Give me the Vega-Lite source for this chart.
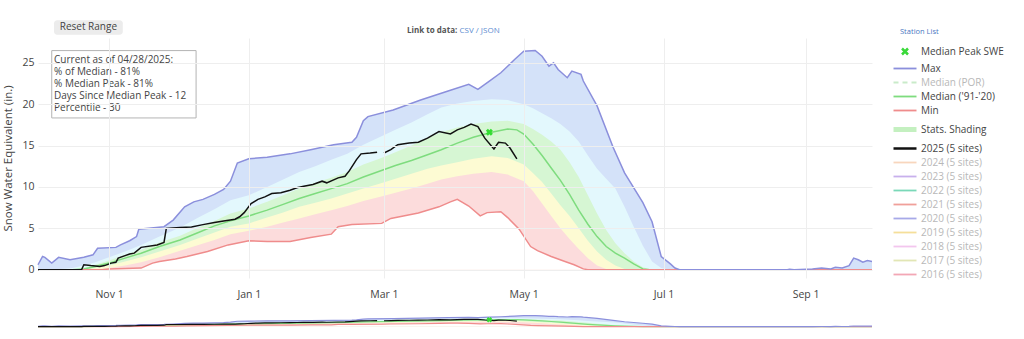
{
  "$schema": "https://vega.github.io/schema/vega-lite/v6.json",
  "background": "white",
  "padding": {"left": 2, "top": 20, "right": 5, "bottom": 4},
  "config": {"font": "Open Sans", "view": {"stroke": null}},
  "datasets": {
    "lines": [
      {"s":"Median ('91-'20)","d":"2024-10-01","v":0},{"s":"Median ('91-'20)","d":"2024-10-16","v":0},{"s":"Median ('91-'20)","d":"2024-10-21","v":0.1},{"s":"Median ('91-'20)","d":"2024-10-26","v":0.4},{"s":"Median ('91-'20)","d":"2024-11-01","v":0.8},{"s":"Median ('91-'20)","d":"2024-11-08","v":1.4},{"s":"Median ('91-'20)","d":"2024-11-15","v":2.0},{"s":"Median ('91-'20)","d":"2024-11-23","v":2.8},{"s":"Median ('91-'20)","d":"2024-12-02","v":3.6},{"s":"Median ('91-'20)","d":"2024-12-10","v":4.5},{"s":"Median ('91-'20)","d":"2024-12-17","v":5.3},{"s":"Median ('91-'20)","d":"2024-12-24","v":5.9},{"s":"Median ('91-'20)","d":"2025-01-01","v":6.5},{"s":"Median ('91-'20)","d":"2025-01-09","v":7.2},{"s":"Median ('91-'20)","d":"2025-01-16","v":7.9},{"s":"Median ('91-'20)","d":"2025-01-23","v":8.6},{"s":"Median ('91-'20)","d":"2025-01-30","v":9.2},{"s":"Median ('91-'20)","d":"2025-02-06","v":9.8},{"s":"Median ('91-'20)","d":"2025-02-13","v":10.4},{"s":"Median ('91-'20)","d":"2025-02-20","v":11.2},{"s":"Median ('91-'20)","d":"2025-02-27","v":11.9},{"s":"Median ('91-'20)","d":"2025-03-06","v":12.6},{"s":"Median ('91-'20)","d":"2025-03-13","v":13.2},{"s":"Median ('91-'20)","d":"2025-03-20","v":13.9},{"s":"Median ('91-'20)","d":"2025-03-26","v":14.5},{"s":"Median ('91-'20)","d":"2025-04-02","v":15.3},{"s":"Median ('91-'20)","d":"2025-04-09","v":16.0},{"s":"Median ('91-'20)","d":"2025-04-17","v":16.6},{"s":"Median ('91-'20)","d":"2025-04-24","v":17.0},{"s":"Median ('91-'20)","d":"2025-04-28","v":16.9},{"s":"Median ('91-'20)","d":"2025-05-01","v":16.4},{"s":"Median ('91-'20)","d":"2025-05-05","v":15.2},{"s":"Median ('91-'20)","d":"2025-05-09","v":13.8},{"s":"Median ('91-'20)","d":"2025-05-13","v":12.3},{"s":"Median ('91-'20)","d":"2025-05-17","v":10.8},{"s":"Median ('91-'20)","d":"2025-05-21","v":9.1},{"s":"Median ('91-'20)","d":"2025-05-25","v":7.2},{"s":"Median ('91-'20)","d":"2025-05-29","v":5.5},{"s":"Median ('91-'20)","d":"2025-06-02","v":4.0},{"s":"Median ('91-'20)","d":"2025-06-06","v":2.8},{"s":"Median ('91-'20)","d":"2025-06-10","v":2.0},{"s":"Median ('91-'20)","d":"2025-06-14","v":1.4},{"s":"Median ('91-'20)","d":"2025-06-18","v":0.7},{"s":"Median ('91-'20)","d":"2025-06-22","v":0.1},{"s":"Median ('91-'20)","d":"2025-06-25","v":0},{"s":"Median ('91-'20)","d":"2025-09-30","v":0},
      {"s":"Min","d":"2024-10-01","v":0},{"s":"Min","d":"2024-10-29","v":0},{"s":"Min","d":"2024-11-01","v":0.1},{"s":"Min","d":"2024-11-15","v":0.2},{"s":"Min","d":"2024-11-20","v":0.8},{"s":"Min","d":"2024-11-23","v":1.0},{"s":"Min","d":"2024-11-30","v":1.3},{"s":"Min","d":"2024-12-05","v":1.6},{"s":"Min","d":"2024-12-14","v":2.2},{"s":"Min","d":"2024-12-23","v":3.0},{"s":"Min","d":"2025-01-01","v":3.5},{"s":"Min","d":"2025-01-09","v":3.4},{"s":"Min","d":"2025-01-19","v":3.4},{"s":"Min","d":"2025-01-28","v":3.9},{"s":"Min","d":"2025-02-06","v":4.3},{"s":"Min","d":"2025-02-09","v":5.2},{"s":"Min","d":"2025-02-15","v":5.45},{"s":"Min","d":"2025-02-28","v":5.6},{"s":"Min","d":"2025-03-04","v":6.2},{"s":"Min","d":"2025-03-16","v":6.85},{"s":"Min","d":"2025-03-25","v":7.6},{"s":"Min","d":"2025-03-30","v":8.2},{"s":"Min","d":"2025-04-02","v":8.5},{"s":"Min","d":"2025-04-07","v":7.7},{"s":"Min","d":"2025-04-12","v":6.5},{"s":"Min","d":"2025-04-15","v":6.9},{"s":"Min","d":"2025-04-21","v":7.0},{"s":"Min","d":"2025-04-24","v":6.3},{"s":"Min","d":"2025-04-29","v":4.9},{"s":"Min","d":"2025-05-04","v":2.8},{"s":"Min","d":"2025-05-07","v":2.3},{"s":"Min","d":"2025-05-13","v":1.6},{"s":"Min","d":"2025-05-19","v":1.0},{"s":"Min","d":"2025-05-23","v":0.6},{"s":"Min","d":"2025-05-27","v":0.1},{"s":"Min","d":"2025-05-29","v":0},{"s":"Min","d":"2025-09-30","v":0},
      {"s":"Max","d":"2024-10-01","v":0.6},{"s":"Max","d":"2024-10-03","v":1.6},{"s":"Max","d":"2024-10-04","v":1.5},{"s":"Max","d":"2024-10-07","v":0.8},{"s":"Max","d":"2024-10-10","v":1.5},{"s":"Max","d":"2024-10-15","v":1.2},{"s":"Max","d":"2024-10-21","v":1.5},{"s":"Max","d":"2024-10-25","v":1.8},{"s":"Max","d":"2024-10-27","v":2.6},{"s":"Max","d":"2024-11-04","v":2.7},{"s":"Max","d":"2024-11-06","v":3.0},{"s":"Max","d":"2024-11-10","v":3.5},{"s":"Max","d":"2024-11-13","v":4.0},{"s":"Max","d":"2024-11-14","v":4.9},{"s":"Max","d":"2024-11-25","v":5.2},{"s":"Max","d":"2024-11-29","v":6.0},{"s":"Max","d":"2024-12-04","v":7.6},{"s":"Max","d":"2024-12-08","v":8.2},{"s":"Max","d":"2024-12-12","v":8.5},{"s":"Max","d":"2024-12-17","v":9.1},{"s":"Max","d":"2024-12-21","v":9.7},{"s":"Max","d":"2024-12-24","v":10.7},{"s":"Max","d":"2024-12-27","v":12.9},{"s":"Max","d":"2025-01-01","v":13.4},{"s":"Max","d":"2025-01-09","v":13.6},{"s":"Max","d":"2025-01-19","v":14.0},{"s":"Max","d":"2025-01-28","v":14.5},{"s":"Max","d":"2025-02-07","v":15.1},{"s":"Max","d":"2025-02-15","v":15.4},{"s":"Max","d":"2025-02-17","v":16.0},{"s":"Max","d":"2025-02-20","v":18.0},{"s":"Max","d":"2025-02-22","v":18.5},{"s":"Max","d":"2025-03-05","v":19.3},{"s":"Max","d":"2025-03-17","v":20.5},{"s":"Max","d":"2025-03-29","v":21.6},{"s":"Max","d":"2025-04-07","v":22.4},{"s":"Max","d":"2025-04-11","v":21.8},{"s":"Max","d":"2025-04-16","v":22.8},{"s":"Max","d":"2025-04-21","v":23.8},{"s":"Max","d":"2025-04-27","v":25.4},{"s":"Max","d":"2025-05-01","v":26.4},{"s":"Max","d":"2025-05-06","v":26.5},{"s":"Max","d":"2025-05-09","v":25.8},{"s":"Max","d":"2025-05-12","v":24.6},{"s":"Max","d":"2025-05-14","v":25.0},{"s":"Max","d":"2025-05-16","v":24.2},{"s":"Max","d":"2025-05-20","v":23.2},{"s":"Max","d":"2025-05-22","v":24.0},{"s":"Max","d":"2025-05-26","v":23.6},{"s":"Max","d":"2025-05-27","v":22.8},{"s":"Max","d":"2025-06-02","v":19.8},{"s":"Max","d":"2025-06-09","v":14.8},{"s":"Max","d":"2025-06-14","v":11.7},{"s":"Max","d":"2025-06-22","v":8.1},{"s":"Max","d":"2025-06-26","v":5.8},{"s":"Max","d":"2025-06-30","v":1.6},{"s":"Max","d":"2025-07-04","v":0.7},{"s":"Max","d":"2025-07-06","v":0.2},{"s":"Max","d":"2025-07-08","v":0},{"s":"Max","d":"2025-08-24","v":0},{"s":"Max","d":"2025-08-25","v":0.05},{"s":"Max","d":"2025-08-27","v":0},{"s":"Max","d":"2025-09-04","v":0.1},{"s":"Max","d":"2025-09-08","v":0.2},{"s":"Max","d":"2025-09-12","v":0.1},{"s":"Max","d":"2025-09-14","v":0.3},{"s":"Max","d":"2025-09-17","v":0.2},{"s":"Max","d":"2025-09-20","v":0.5},{"s":"Max","d":"2025-09-22","v":1.4},{"s":"Max","d":"2025-09-24","v":1.2},{"s":"Max","d":"2025-09-26","v":0.9},{"s":"Max","d":"2025-09-28","v":1.1},{"s":"Max","d":"2025-09-30","v":1.0},
      {"s":"2025 (5 sites)","d":"2024-10-01","v":0},{"s":"2025 (5 sites)","d":"2024-10-20","v":0},{"s":"2025 (5 sites)","d":"2024-10-21","v":0.6},{"s":"2025 (5 sites)","d":"2024-10-24","v":0.5},{"s":"2025 (5 sites)","d":"2024-10-28","v":0.4},{"s":"2025 (5 sites)","d":"2024-10-30","v":0.5},{"s":"2025 (5 sites)","d":"2024-11-02","v":0.8},{"s":"2025 (5 sites)","d":"2024-11-04","v":0.9},{"s":"2025 (5 sites)","d":"2024-11-05","v":1.4},{"s":"2025 (5 sites)","d":"2024-11-08","v":1.7},{"s":"2025 (5 sites)","d":"2024-11-10","v":1.9},{"s":"2025 (5 sites)","d":"2024-11-12","v":2.0},{"s":"2025 (5 sites)","d":"2024-11-15","v":2.7},{"s":"2025 (5 sites)","d":"2024-11-22","v":3.0},{"s":"2025 (5 sites)","d":"2024-11-25","v":3.3},{"s":"2025 (5 sites)","d":"2024-11-26","v":5.0},{"s":"2025 (5 sites)","d":"2024-12-02","v":5.1},{"s":"2025 (5 sites)","d":"2024-12-07","v":5.15},{"s":"2025 (5 sites)","d":"2024-12-12","v":5.45},{"s":"2025 (5 sites)","d":"2024-12-17","v":5.7},{"s":"2025 (5 sites)","d":"2024-12-21","v":5.9},{"s":"2025 (5 sites)","d":"2024-12-26","v":6.1},{"s":"2025 (5 sites)","d":"2024-12-28","v":6.4},{"s":"2025 (5 sites)","d":"2024-12-30","v":6.9},{"s":"2025 (5 sites)","d":"2025-01-02","v":8.0},{"s":"2025 (5 sites)","d":"2025-01-05","v":8.5},{"s":"2025 (5 sites)","d":"2025-01-08","v":8.8},{"s":"2025 (5 sites)","d":"2025-01-11","v":9.2},{"s":"2025 (5 sites)","d":"2025-01-15","v":9.3},{"s":"2025 (5 sites)","d":"2025-01-19","v":9.6},{"s":"2025 (5 sites)","d":"2025-01-22","v":9.9},{"s":"2025 (5 sites)","d":"2025-01-25","v":10.1},{"s":"2025 (5 sites)","d":"2025-01-29","v":10.3},{"s":"2025 (5 sites)","d":"2025-02-02","v":10.7},{"s":"2025 (5 sites)","d":"2025-02-04","v":10.5},{"s":"2025 (5 sites)","d":"2025-02-09","v":11.1},{"s":"2025 (5 sites)","d":"2025-02-12","v":11.3},{"s":"2025 (5 sites)","d":"2025-02-14","v":12.0},{"s":"2025 (5 sites)","d":"2025-02-17","v":13.3},{"s":"2025 (5 sites)","d":"2025-02-19","v":14.0},{"s":"2025 (5 sites)","d":"2025-02-23","v":14.1},{"s":"2025 (5 sites)","d":"2025-02-26","v":14.2},{"s":"2025 (5 sites)","d":"2025-02-28","v":null},{"s":"2025 (5 sites)","d":"2025-03-01","v":14.1},{"s":"2025 (5 sites)","d":"2025-03-04","v":14.5},{"s":"2025 (5 sites)","d":"2025-03-07","v":15.1},{"s":"2025 (5 sites)","d":"2025-03-12","v":15.3},{"s":"2025 (5 sites)","d":"2025-03-16","v":15.4},{"s":"2025 (5 sites)","d":"2025-03-20","v":15.9},{"s":"2025 (5 sites)","d":"2025-03-25","v":16.7},{"s":"2025 (5 sites)","d":"2025-03-30","v":16.4},{"s":"2025 (5 sites)","d":"2025-04-02","v":16.9},{"s":"2025 (5 sites)","d":"2025-04-05","v":17.2},{"s":"2025 (5 sites)","d":"2025-04-08","v":17.6},{"s":"2025 (5 sites)","d":"2025-04-11","v":17.3},{"s":"2025 (5 sites)","d":"2025-04-14","v":15.9},{"s":"2025 (5 sites)","d":"2025-04-18","v":14.6},{"s":"2025 (5 sites)","d":"2025-04-20","v":15.4},{"s":"2025 (5 sites)","d":"2025-04-23","v":15.3},{"s":"2025 (5 sites)","d":"2025-04-25","v":14.7},{"s":"2025 (5 sites)","d":"2025-04-28","v":13.4}
    ],
    "pct": [
      {"d":"2024-10-01","p90":0,"p70":0,"p30":0,"p10":0},
      {"d":"2024-10-11","p90":0.1,"p70":0,"p30":0,"p10":0},
      {"d":"2024-10-16","p90":0.2,"p70":0,"p30":0,"p10":0},
      {"d":"2024-10-21","p90":0.5,"p70":0.2,"p30":0,"p10":0},
      {"d":"2024-10-26","p90":0.9,"p70":0.6,"p30":0.2,"p10":0},
      {"d":"2024-11-01","p90":1.5,"p70":1.1,"p30":0.5,"p10":0.2},
      {"d":"2024-11-08","p90":2.2,"p70":1.8,"p30":1.0,"p10":0.5},
      {"d":"2024-11-15","p90":3.0,"p70":2.4,"p30":1.5,"p10":0.9},
      {"d":"2024-11-23","p90":4.0,"p70":3.3,"p30":2.2,"p10":1.5},
      {"d":"2024-12-02","p90":5.1,"p70":4.1,"p30":3.0,"p10":2.3},
      {"d":"2024-12-10","p90":6.3,"p70":5.1,"p30":3.8,"p10":3.0},
      {"d":"2024-12-17","p90":7.3,"p70":5.9,"p30":4.5,"p10":3.6},
      {"d":"2024-12-24","p90":8.4,"p70":6.8,"p30":5.2,"p10":4.3},
      {"d":"2025-01-01","p90":9.0,"p70":7.4,"p30":5.6,"p10":4.7},
      {"d":"2025-01-09","p90":10.0,"p70":8.2,"p30":6.3,"p10":5.2},
      {"d":"2025-01-16","p90":10.9,"p70":9.0,"p30":6.9,"p10":5.7},
      {"d":"2025-01-23","p90":11.8,"p70":9.8,"p30":7.6,"p10":6.2},
      {"d":"2025-01-30","p90":12.5,"p70":10.5,"p30":8.1,"p10":6.7},
      {"d":"2025-02-06","p90":13.3,"p70":11.1,"p30":8.6,"p10":7.2},
      {"d":"2025-02-13","p90":14.0,"p70":11.8,"p30":9.2,"p10":7.7},
      {"d":"2025-02-20","p90":15.1,"p70":12.7,"p30":9.8,"p10":8.3},
      {"d":"2025-02-27","p90":16.0,"p70":13.4,"p30":10.4,"p10":8.8},
      {"d":"2025-03-06","p90":16.9,"p70":14.2,"p30":11.0,"p10":9.3},
      {"d":"2025-03-13","p90":17.8,"p70":15.0,"p30":11.6,"p10":9.8},
      {"d":"2025-03-20","p90":18.8,"p70":15.9,"p30":12.2,"p10":10.4},
      {"d":"2025-03-26","p90":19.6,"p70":16.6,"p30":12.6,"p10":10.9},
      {"d":"2025-04-02","p90":20.1,"p70":17.2,"p30":13.0,"p10":11.3},
      {"d":"2025-04-09","p90":20.4,"p70":17.6,"p30":13.4,"p10":11.6},
      {"d":"2025-04-17","p90":20.6,"p70":17.9,"p30":13.7,"p10":11.8},
      {"d":"2025-04-24","p90":20.5,"p70":18.0,"p30":13.5,"p10":11.5},
      {"d":"2025-05-01","p90":20.0,"p70":17.6,"p30":12.7,"p10":10.7},
      {"d":"2025-05-05","p90":19.5,"p70":17.0,"p30":11.7,"p10":9.5},
      {"d":"2025-05-09","p90":18.9,"p70":16.3,"p30":10.6,"p10":8.0},
      {"d":"2025-05-13","p90":18.3,"p70":15.5,"p30":9.2,"p10":6.5},
      {"d":"2025-05-17","p90":17.6,"p70":14.5,"p30":7.8,"p10":5.0},
      {"d":"2025-05-21","p90":16.7,"p70":13.0,"p30":6.5,"p10":3.7},
      {"d":"2025-05-25","p90":15.5,"p70":11.2,"p30":5.0,"p10":2.5},
      {"d":"2025-05-29","p90":13.8,"p70":9.0,"p30":3.5,"p10":1.4},
      {"d":"2025-06-02","p90":12.2,"p70":6.8,"p30":2.2,"p10":0.5},
      {"d":"2025-06-06","p90":11.0,"p70":4.8,"p30":1.2,"p10":0.1},
      {"d":"2025-06-10","p90":9.8,"p70":3.2,"p30":0.5,"p10":0},
      {"d":"2025-06-14","p90":7.6,"p70":2.0,"p30":0.1,"p10":0},
      {"d":"2025-06-18","p90":5.2,"p70":1.0,"p30":0,"p10":0},
      {"d":"2025-06-22","p90":2.9,"p70":0.3,"p30":0,"p10":0},
      {"d":"2025-06-26","p90":1.0,"p70":0,"p30":0,"p10":0},
      {"d":"2025-06-30","p90":0.2,"p70":0,"p30":0,"p10":0},
      {"d":"2025-07-04","p90":0,"p70":0,"p30":0,"p10":0},
      {"d":"2025-09-30","p90":0,"p70":0,"p30":0,"p10":0}
    ],
    "peak": [{"s":"Median Peak SWE","d":"2025-04-16","v":16.6}],
    "boxes": [
      {"k":"info","d":"2024-10-07","d2":"2024-12-09","v":26.48,"v2":18.34},
      {"k":"button","d":"2024-10-08","d2":"2024-11-07","v":30.15,"v2":28.4}
    ],
    "labels": [
      {"k":"info","d":"2024-10-08","v":26.0,"t":["Current as of 04/28/2025:","% of Median - 81%","% Median Peak - 81%","Days Since Median Peak - 12","Percentile - 30"]},
      {"k":"button","d":"2024-10-23","v":29.3,"t":"Reset Range"},
      {"k":"link","d":"2025-04-02","v":28.85,"t":"Link to data:"},
      {"k":"files","d":"2025-04-03","v":28.85,"t":"CSV / JSON"}
    ]
  },
  "resolve": {"scale": {"x": "independent", "y": "independent", "color": "independent", "stroke": "independent"}},
  "spacing": 13,
  "vconcat": [
    {
      "width": 834,
      "height": 240,
      "encoding": {
        "x": {"field": "d", "type": "temporal", "title": null,
          "scale": {"type": "utc", "domain": ["2024-10-01", "2025-09-30"]},
          "axis": {"values": ["2024-11-01", "2025-01-01", "2025-03-01", "2025-05-01", "2025-07-01", "2025-09-01"],
            "labelExpr": "utcFormat(datum.value, '%b %e')", "grid": true, "gridColor": "#eeeeee", "domain": false, "ticks": false, "labelPadding": 11, "labelFontSize": 10.5, "labelColor": "#444444", "zindex": 1}},
        "y": {"field": "v", "type": "quantitative", "title": "Snow Water Equivalent (in.)",
          "scale": {"domain": [-1, 28], "nice": false},
          "axis": {"values": [0, 5, 10, 15, 20, 25], "grid": true, "gridColor": "#eeeeee", "domain": false, "ticks": false, "labelPadding": 4, "labelFontSize": 10.5, "labelColor": "#444444", "titleFontSize": 11.5, "titleFontWeight": "normal", "titleColor": "#444444", "titlePadding": 8, "zindex": 1}}
      },
      "layer": [
        {"data": {"name": "lines"}, "transform": [{"filter": "datum.s === 'Max'"}], "mark": {"type": "area", "color": "#d4e2f9"}},
        {"data": {"name": "pct"}, "transform": [{"fold": ["p90", "p70", "p30", "p10"], "as": ["s", "v"]}, {"filter": "datum.s === 'p90'"}], "mark": {"type": "area", "color": "#e3f8fd"}},
        {"data": {"name": "pct"}, "transform": [{"fold": ["p90", "p70", "p30", "p10"], "as": ["s", "v"]}, {"filter": "datum.s === 'p70'"}], "mark": {"type": "area", "color": "#d6f6d3"}},
        {"data": {"name": "pct"}, "transform": [{"fold": ["p90", "p70", "p30", "p10"], "as": ["s", "v"]}, {"filter": "datum.s === 'p30'"}], "mark": {"type": "area", "color": "#fdfbd3"}},
        {"data": {"name": "pct"}, "transform": [{"fold": ["p90", "p70", "p30", "p10"], "as": ["s", "v"]}, {"filter": "datum.s === 'p10'"}], "mark": {"type": "area", "color": "#fcdcdc"}},
        {"data": {"name": "lines"}, "transform": [{"filter": "datum.s === 'Min'"}], "mark": {"type": "area", "color": "#ffffff"}},
        {"data": {"name": "lines"},
          "mark": {"type": "line", "strokeWidth": 1.5},
          "encoding": {
            "color": {"field": "s", "type": "nominal",
              "scale": {"domain": ["Median Peak SWE", "Max", "Median (POR)", "Median ('91-'20)", "Min", "Stats. Shading", "2025 (5 sites)", "2024 (5 sites)", "2023 (5 sites)", "2022 (5 sites)", "2021 (5 sites)", "2020 (5 sites)", "2019 (5 sites)", "2018 (5 sites)", "2017 (5 sites)", "2016 (5 sites)"],
                "range": ["#39d939", "#8b8fdc", "#c9ebc9", "#7edc7e", "#ef8c8c", "#c4f0c0", "#111111", "#f8d6bd", "#c8b0ec", "#7ad8b8", "#f0a09a", "#a7a9e8", "#f5df9a", "#f3c6ee", "#e2e6b5", "#f3a7b5"]},
              "legend": {"title": "Station List", "orient": "none", "legendX": 862, "legendY": -10, "padding": 0,
                "titleFontSize": 7.5, "titleFontWeight": "normal", "titleColor": "#4a78c2", "titlePadding": 11,
                "labelFontSize": 10, "labelOffset": 11, "labelLimit": 200,
                "labelColor": {"expr": "datum.value === 'Median (POR)' || (datum.value !== '2025 (5 sites)' && indexof(datum.value, 'sites') >= 0) ? '#b8b8b8' : '#444444'"},
                "symbolType": {"expr": "datum.value === 'Median Peak SWE' ? 'M-0.6,-0.6L0.6,0.6M0.6,-0.6L-0.6,0.6' : 'M-2.3,0H2.3'"},
                "symbolStrokeWidth": {"expr": "datum.value === 'Stats. Shading' ? 5 : (datum.value === 'Median Peak SWE' || datum.value === '2025 (5 sites)') ? 2.5 : 1.8"},
                "symbolDash": {"expr": "datum.value === 'Median (POR)' ? [5, 4] : []"},
                "symbolSize": 100, "rowPadding": 4}}}},
        {"data": {"name": "peak"}, "mark": {"type": "point", "shape": "cross", "angle": 45, "filled": true, "size": 50, "color": "#33dd33", "opacity": 1}},
        {"data": {"name": "boxes"}, "transform": [{"filter": "datum.k === 'info'"}], "mark": {"type": "rect", "fill": "#ffffff", "stroke": "#b4b4b4", "strokeWidth": 1}, "encoding": {"x2": {"field": "d2"}, "y2": {"field": "v2"}}},
        {"data": {"name": "boxes"}, "transform": [{"filter": "datum.k === 'button'"}], "mark": {"type": "rect", "fill": "#ececec", "cornerRadius": 3}, "encoding": {"x2": {"field": "d2"}, "y2": {"field": "v2"}}},
        {"data": {"name": "labels"}, "transform": [{"filter": "datum.k === 'info'"}], "mark": {"type": "text", "align": "left", "baseline": "top", "fontSize": 10, "lineHeight": 12.1, "color": "#444444"}, "encoding": {"text": {"field": "t"}}},
        {"data": {"name": "labels"}, "transform": [{"filter": "datum.k === 'button'"}], "mark": {"type": "text", "align": "center", "baseline": "middle", "fontSize": 10, "color": "#444444"}, "encoding": {"text": {"field": "t"}}},
        {"data": {"name": "labels"}, "transform": [{"filter": "datum.k === 'link'"}], "mark": {"type": "text", "align": "right", "baseline": "middle", "fontSize": 8, "fontWeight": "bold", "color": "#555555"}, "encoding": {"text": {"field": "t"}}},
        {"data": {"name": "labels"}, "transform": [{"filter": "datum.k === 'files'"}], "mark": {"type": "text", "align": "left", "baseline": "middle", "fontSize": 8, "color": "#5b8bd0"}, "encoding": {"text": {"field": "t"}}}
      ]
    },
    {
      "width": 834,
      "height": 12,
      "encoding": {
        "x": {"field": "d", "type": "temporal", "axis": null,
          "scale": {"type": "utc", "domain": ["2024-10-01", "2025-09-30"]}},
        "y": {"field": "v", "type": "quantitative", "axis": null, "scale": {"domain": [-1, 28], "nice": false}}
      },
      "layer": [
        {"data": {"name": "lines"}, "transform": [{"filter": "datum.s === 'Max'"}], "mark": {"type": "area", "color": "#d4e2f9"}},
        {"data": {"name": "pct"}, "transform": [{"fold": ["p90", "p70", "p30", "p10"], "as": ["s", "v"]}, {"filter": "datum.s === 'p90'"}], "mark": {"type": "area", "color": "#e3f8fd"}},
        {"data": {"name": "pct"}, "transform": [{"fold": ["p90", "p70", "p30", "p10"], "as": ["s", "v"]}, {"filter": "datum.s === 'p70'"}], "mark": {"type": "area", "color": "#d6f6d3"}},
        {"data": {"name": "pct"}, "transform": [{"fold": ["p90", "p70", "p30", "p10"], "as": ["s", "v"]}, {"filter": "datum.s === 'p30'"}], "mark": {"type": "area", "color": "#fdfbd3"}},
        {"data": {"name": "pct"}, "transform": [{"fold": ["p90", "p70", "p30", "p10"], "as": ["s", "v"]}, {"filter": "datum.s === 'p10'"}], "mark": {"type": "area", "color": "#fcdcdc"}},
        {"data": {"name": "lines"}, "transform": [{"filter": "datum.s === 'Min'"}], "mark": {"type": "area", "color": "#ffffff"}},
        {"data": {"name": "lines"}, "mark": {"type": "line", "strokeWidth": 1.2},
          "encoding": {"stroke": {"field": "s", "type": "nominal", "legend": null,
            "scale": {"domain": ["Max", "Median ('91-'20)", "Min", "2025 (5 sites)"], "range": ["#8b8fdc", "#7edc7e", "#ef8c8c", "#111111"]}}}},
        {"data": {"name": "peak"}, "mark": {"type": "point", "shape": "cross", "angle": 45, "filled": true, "size": 30, "color": "#33dd33", "opacity": 1}}
      ]
    }
  ]
}
